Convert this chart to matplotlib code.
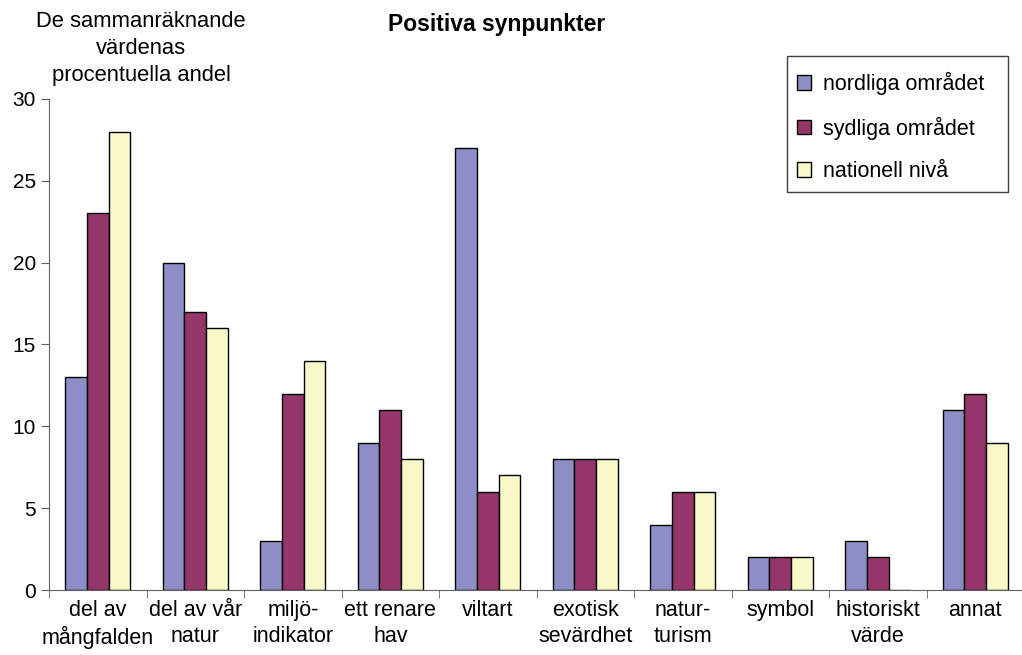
import matplotlib
matplotlib.use("Agg")
import matplotlib.pyplot as plt
from matplotlib.patches import Rectangle
import numpy as np

# Kategorier och värden
kategorier = ["del av\nmångfalden", "del av vår\nnatur", "miljö-\nindikator",
              "ett renare\nhav", "viltart", "exotisk\nsevärdhet", "natur-\nturism",
              "symbol", "historiskt\nvärde", "annat"]
nordliga = [13, 20, 3, 9, 27, 8, 4, 2, 3, 11]
sydliga = [23, 17, 12, 11, 6, 8, 6, 2, 2, 12]
nationell = [28, 16, 14, 8, 7, 8, 6, 2, 0, 9]
serier = ["nordliga området", "sydliga området", "nationell nivå"]
farger = ["#8E8EC6", "#943669", "#F8F8C8"]

plt.rcParams['font.family'] = ['Liberation Sans', 'DejaVu Sans']

fig = plt.figure(figsize=(10.22, 6.55), dpi=100)
ax = fig.add_axes([0.048, 0.0992, 0.954, 0.750])

x = np.arange(len(kategorier))
w = 0.222
for i, (vals, namn) in enumerate(zip([nordliga, sydliga, nationell], serier)):
    ax.bar(x + (i - 1) * w, vals, width=w, color=farger[i], edgecolor="black",
           linewidth=1.0, label=namn)

ax.set_xlim(-0.5, len(kategorier) - 0.5)
ax.set_ylim(0, 30)
ax.set_yticks(range(0, 31, 5))
ax.set_xticks(x)
ax.set_xticklabels(kategorier, fontsize=15.5, linespacing=1.3)
ax.set_xticks(np.arange(-0.5, len(kategorier) - 0.4, 1), minor=True)
ax.tick_params(axis="x", which="major", length=0, pad=7)
ax.tick_params(axis="x", which="minor", length=6, color="#606060")
ax.tick_params(axis="y", labelsize=15, length=6, color="#606060")

for s in ["top", "right"]:
    ax.spines[s].set_visible(False)
for s in ["left", "bottom"]:
    ax.spines[s].set_color("#606060")

fig.text(0.486, 0.962, "Positiva synpunkter", ha="center", va="center",
         fontsize=16.5, fontweight="bold")
fig.text(0.138, 0.926, "De sammanräknande\nvärdenas\nprocentuella andel",
         ha="center", va="center", fontsize=15.8, linespacing=1.38)

# Legend med egen ram
fig.patches.append(Rectangle((0.770, 0.7069), 0.2162, 0.2076, transform=fig.transFigure,
                             facecolor="white", edgecolor="#404040", linewidth=1.0))
leg = fig.legend(loc="center left", bbox_to_anchor=(797 / 1022, 1 - 127 / 655),
                 fontsize=15.5, frameon=False, handlelength=0.65, handleheight=0.65,
                 labelspacing=1.0, borderpad=0, handletextpad=0.55, borderaxespad=0)

fig.savefig("out.png", dpi=100)
